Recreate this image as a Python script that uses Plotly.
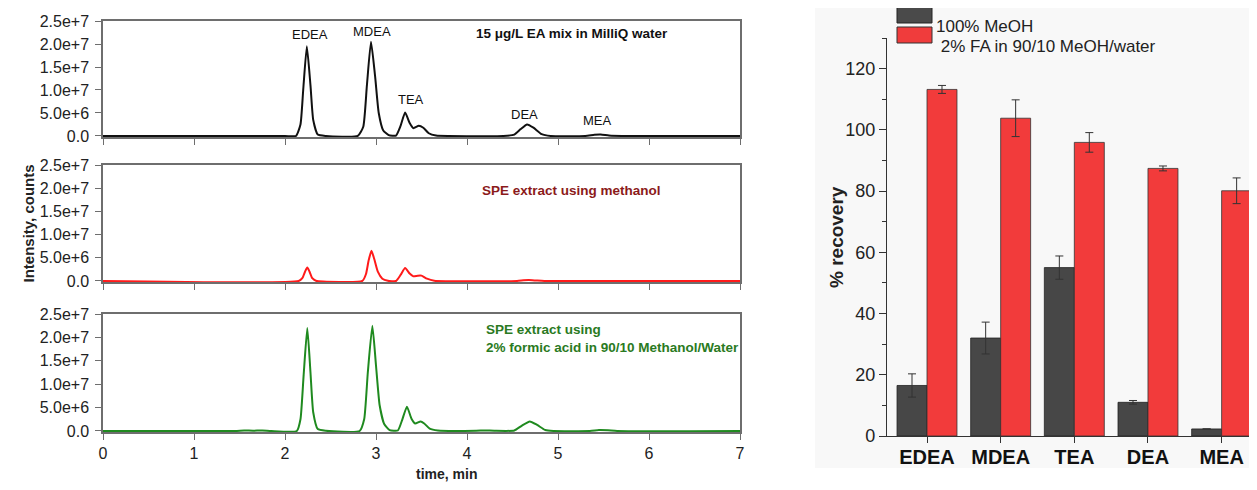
import plotly.graph_objects as go

# ---------------- data ----------------
# chromatogram traces (time in min, intensity in counts)
t_std = [0, 1.0, 2.0, 2.12, 2.17, 2.20, 2.24, 2.28, 2.31, 2.36, 2.45, 2.80, 2.86, 2.90, 2.945, 2.99, 3.03, 3.08, 3.14,
         3.22, 3.27, 3.32, 3.37, 3.41, 3.47, 3.52, 3.58, 3.66, 3.8, 4.4, 4.52, 4.59, 4.66, 4.73, 4.82, 4.92, 5.3, 5.4,
         5.47, 5.56, 5.7, 7.0]
i_std = [0, 0, 0, 0, 2.5e6, 10e6, 19.5e6, 11e6, 3.5e6, 0.3e6, 0, 0, 2e6, 11e6, 20.5e6, 13e6, 5e6, 1.2e6, 0.2e6,
         0.1e6, 2.2e6, 5.1e6, 2.8e6, 1.7e6, 2.2e6, 1.8e6, 0.6e6, 0.1e6, 0, 0, 0.3e6, 1.5e6, 2.5e6, 1.8e6, 0.4e6, 0, 0,
         0.25e6, 0.3e6, 0.1e6, 0, 0]

t_meoh = [0, 2.15, 2.19, 2.22, 2.245, 2.27, 2.30, 2.34, 2.85, 2.89, 2.92, 2.95, 2.98, 3.02, 3.07, 3.13, 3.22, 3.27,
          3.32, 3.37, 3.41, 3.46, 3.50, 3.56, 3.64, 4.55, 4.62, 4.68, 4.76, 4.85, 7.0]
i_meoh = [0, 0, 0.6e6, 2.0e6, 2.9e6, 2.0e6, 0.6e6, 0.05e6, 0, 1.5e6, 4.5e6, 6.5e6, 4.8e6, 2.0e6, 0.5e6, 0.05e6, 0,
          1.3e6, 2.8e6, 1.6e6, 1.0e6, 1.15e6, 1.15e6, 0.5e6, 0.05e6, 0, 0.15e6, 0.2e6, 0.1e6, 0, 0]

t_fa = [0, 1.45, 1.55, 1.65, 1.75, 1.85, 2.13, 2.17, 2.205, 2.245, 2.28, 2.31, 2.36, 2.45, 2.82, 2.87, 2.91, 2.96,
        3.0, 3.04, 3.09, 3.15, 3.24, 3.29, 3.34, 3.39, 3.43, 3.49, 3.53, 3.59, 3.68, 4.1, 4.2, 4.3, 4.52, 4.6, 4.69,
        4.77, 4.86, 4.95, 5.35, 5.45, 5.55, 5.65, 7.0]
i_fa = [0, 0, 0.1e6, 0.05e6, 0.12e6, 0, 0, 2.5e6, 12e6, 22e6, 12.5e6, 4e6, 0.4e6, 0.05e6, 0, 2.5e6, 12.5e6, 22.5e6,
        14e6, 5.5e6, 1.5e6, 0.2e6, 0.1e6, 2.5e6, 5.2e6, 2.6e6, 1.6e6, 2.05e6, 1.6e6, 0.5e6, 0.1e6, 0.05e6, 0.12e6,
        0.05e6, 0.1e6, 1.1e6, 2.05e6, 1.3e6, 0.2e6, 0, 0, 0.2e6, 0.15e6, 0, 0]

peak_labels = ["EDEA", "MDEA", "TEA", "DEA", "MEA"]
peak_label_t = [2.27, 2.96, 3.39, 4.63, 5.43]
peak_label_i = [22.0e6, 22.7e6, 8.0e6, 4.7e6, 3.4e6]

int_tickvals = [0, 5e6, 10e6, 15e6, 20e6, 25e6]
int_ticktext = ["0.0", "5.0e+6", "1.0e+7", "1.5e+7", "2.0e+7", "2.5e+7"]
time_ticks = [0, 1, 2, 3, 4, 5, 6, 7]

# recovery bar chart
analytes = ["EDEA", "MDEA", "TEA", "DEA", "MEA"]
rec_meoh = [16.5, 32.0, 55.0, 11.0, 2.3]
err_meoh = [3.8, 5.2, 3.8, 0.6, 0.0]
rec_fa = [113.2, 103.8, 95.9, 87.4, 80.1]
err_fa = [1.3, 6.0, 3.2, 0.8, 4.2]
rec_ticks = [0, 20, 40, 60, 80, 100, 120]

# ---------------- figure ----------------
# the page body has an 8px margin, so the figure is drawn 8px smaller and
# all screen-pixel positions are shifted by that offset
OFF = 8
W, H = 1257 - OFF, 490 - OFF
FONT = "Liberation Sans, Arial, sans-serif"

def px_x(p):
    return (p - OFF) / W

def px_y(p):
    return 1 - (p - OFF) / H

fig = go.Figure()

spline = dict(shape="spline", smoothing=0.5, width=2)
fig.add_trace(go.Scatter(x=t_std, y=i_std, mode="lines", line=dict(color="#111111", **spline),
                         xaxis="x", yaxis="y", showlegend=False))
fig.add_trace(go.Scatter(x=t_meoh, y=i_meoh, mode="lines", line=dict(color="#ff1a1a", **spline),
                         xaxis="x2", yaxis="y2", showlegend=False))
fig.add_trace(go.Scatter(x=t_fa, y=i_fa, mode="lines", line=dict(color="#1f8a1f", **spline),
                         xaxis="x3", yaxis="y3", showlegend=False))

fig.add_trace(go.Bar(x=analytes, y=rec_meoh, name="100% MeOH", marker=dict(color="#474747", line=dict(color="#222", width=0.8)),
                     error_y=dict(type="data", array=err_meoh, color="#333", thickness=1, width=4),
                     xaxis="x4", yaxis="y4", showlegend=False))
fig.add_trace(go.Bar(x=analytes, y=rec_fa, name="2% FA in 90/10 MeOH/water",
                     marker=dict(color="#f23b3b", line=dict(color="#333", width=0.8)),
                     error_y=dict(type="data", array=err_fa, color="#333", thickness=1, width=4),
                     xaxis="x4", yaxis="y4", showlegend=False))

x_dom = [px_x(103), px_x(740)]
panels = [(21, 137), (165, 282), (314, 432)]
axcommon = dict(showline=True, linecolor="#6e6e6e", linewidth=1.5, mirror=True, ticks="outside",
                tickcolor="#6e6e6e", showgrid=False, zeroline=False, automargin=False)

layout = dict(width=W, height=H, margin=dict(l=0, r=0, t=0, b=0, autoexpand=False), paper_bgcolor="white",
              plot_bgcolor="white", font=dict(family=FONT, color="#222"), barmode="group", bargap=0.186,
              bargroupgap=0)

for k, (top, bot) in enumerate(panels, start=1):
    sx = "" if k == 1 else str(k)
    layout["xaxis" + sx] = dict(domain=x_dom, range=[0, 7], anchor="y" + sx, tickvals=time_ticks, ticklen=6,
                                showticklabels=(k == 3), tickfont=dict(size=16, color="#222"), **axcommon)
    layout["yaxis" + sx] = dict(domain=[px_y(bot), px_y(top)], range=[-2.2e5, 2.5e7], anchor="x" + sx,
                                tickvals=int_tickvals, ticktext=int_ticktext, ticklen=6, ticklabelstandoff=3,
                                tickfont=dict(size=16, color="#222"), **axcommon)

layout["xaxis4"] = dict(domain=[px_x(887), 1.0], range=[-0.543, 4.48], anchor="y4", type="category",
                        showline=True, linecolor="#333", linewidth=1.2, ticks="outside", ticklen=6,
                        ticklabelstandoff=-3,
                        tickcolor="#333", tickfont=dict(size=20, color="#111", family=FONT, weight="bold"),
                        showgrid=False, zeroline=False, automargin=False)
layout["yaxis4"] = dict(domain=[px_y(436), px_y(38)], range=[0, 130], anchor="x4",
                        showline=True, linecolor="#333", linewidth=1.2, ticks="outside", ticklen=7,
                        tickcolor="#333", tickvals=rec_ticks, tickfont=dict(size=18, color="#222"),
                        minor=dict(ticks="outside", ticklen=4, tickcolor="#333", dtick=10, tick0=10),
                        showgrid=False, zeroline=False, automargin=False)

shapes = [
    dict(type="rect", xref="paper", yref="paper", x0=px_x(815), x1=1.0, y0=px_y(468), y1=1.0,
         fillcolor="#f8f8f8", line=dict(width=0), layer="below"),
    dict(type="rect", xref="paper", yref="paper", x0=px_x(897), x1=px_x(932), y0=px_y(23), y1=px_y(7),
         fillcolor="#4a4a4a", line=dict(color="#222", width=1)),
    dict(type="rect", xref="paper", yref="paper", x0=px_x(897), x1=px_x(932), y0=px_y(43), y1=px_y(27),
         fillcolor="#f03c3c", line=dict(color="#333", width=1)),
]

annotations = []
for lab, tx, iy in zip(peak_labels, peak_label_t, peak_label_i):
    annotations.append(dict(x=tx, y=iy, xref="x", yref="y", text=lab, showarrow=False,
                            font=dict(size=13, color="#111")))
annotations += [
    dict(x=5.15, y=22.3e6, xref="x", yref="y", text="<b>15 μg/L EA mix in MilliQ water</b>", showarrow=False,
         font=dict(size=13.5, color="#111")),
    dict(x=5.15, y=19.5e6, xref="x2", yref="y2", text="<b>SPE extract using methanol</b>", showarrow=False,
         font=dict(size=13.5, color="#8b1a1a")),
    dict(x=px_x(484), y=px_y(320), xref="paper", yref="paper", xanchor="left", yanchor="top", align="left",
         text="<b>SPE extract using<br>2% formic acid in 90/10 Methanol/Water</b>", showarrow=False,
         font=dict(size=13.5, color="#2a7a22")),
    dict(x=px_x(18), y=px_y(224), xref="paper", yref="paper", text="<b>Intensity, counts</b>", textangle=-90,
         showarrow=False, font=dict(size=15, color="#222")),
    dict(x=px_x(414), y=px_y(484), xref="paper", yref="paper", text="<b>time, min</b>",
         showarrow=False, font=dict(size=14, color="#222")),
    dict(x=px_x(836), y=px_y(237), xref="paper", yref="paper", text="<b>% recovery</b>", textangle=-90,
         showarrow=False, font=dict(size=19, color="#222")),
    dict(x=px_x(934), y=px_y(15), xref="paper", yref="paper", xanchor="left", text="100% MeOH",
         showarrow=False, font=dict(size=17, color="#222")),
    dict(x=px_x(934), y=px_y(35), xref="paper", yref="paper", xanchor="left", text=" 2% FA in 90/10 MeOH/water",
         showarrow=False, font=dict(size=17, color="#222")),
]

layout["shapes"] = shapes
layout["annotations"] = annotations
fig.update_layout(**layout)
fig.write_html("out.html")
